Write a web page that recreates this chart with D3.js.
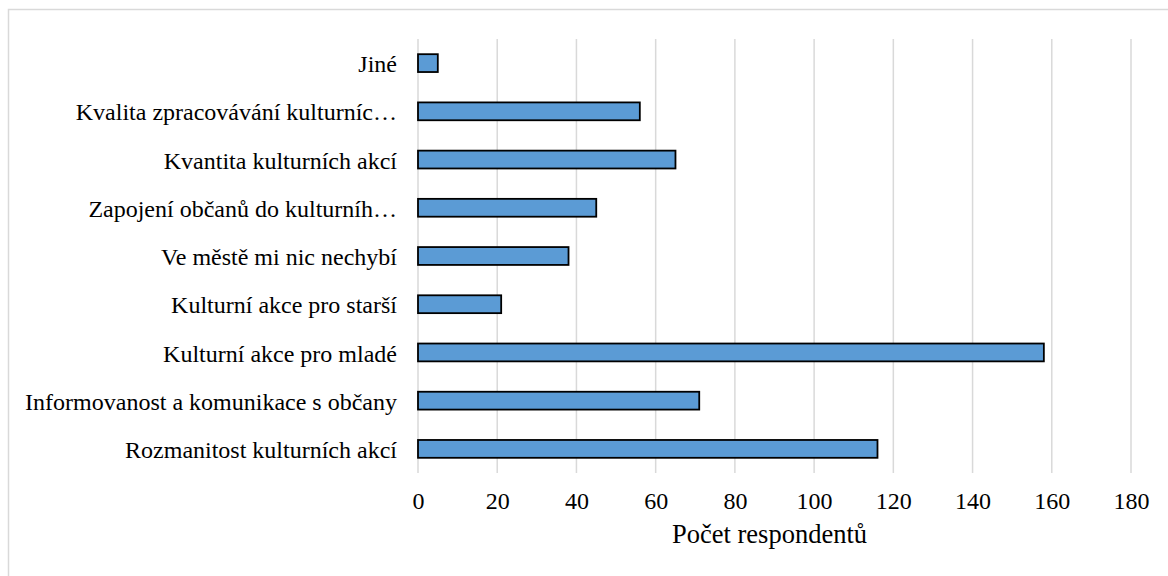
<!DOCTYPE html>
<html>
<head>
<meta charset="utf-8">
<script src="https://cdn.jsdelivr.net/npm/d3@7/dist/d3.min.js"></script>
<style>
  html, body { margin: 0; padding: 0; background: #fff; }
  svg { display: block; }
</style>
</head>
<body>
<svg id="chart" width="1168" height="576"></svg>
<script>
const categories = [
  "Jiné",
  "Kvalita zpracovávání kulturníc…",
  "Kvantita kulturních akcí",
  "Zapojení občanů do kulturníh…",
  "Ve městě mi nic nechybí",
  "Kulturní akce pro starší",
  "Kulturní akce pro mladé",
  "Informovanost a komunikace s občany",
  "Rozmanitost kulturních akcí"
];
const values = [5, 56, 65, 45, 38, 21, 158, 71, 116];
const xTicks = [0, 20, 40, 60, 80, 100, 120, 140, 160, 180];
const xTitle = "Počet respondentů";

const FONT = '"Liberation Serif", "Times New Roman", serif';
const FS = "24px";

const svg = d3.select("#chart");
const W = 1168, H = 576;
const margin = { left: 418, right: 37, top: 39, bottom: 103 };

// outer border
svg.append("rect")
  .attr("x", 8.5).attr("y", 9.5)
  .attr("width", W + 20).attr("height", H + 20)
  .attr("fill", "#fff").attr("stroke", "#d9d9d9").attr("stroke-width", 1.5);

const x = d3.scaleLinear().domain([0, 180]).range([margin.left, W - margin.right]);
const y = d3.scaleBand().domain(categories).range([margin.top, H - margin.bottom]).paddingInner(0.63).paddingOuter(0.315);

// gridlines
svg.append("g")
  .selectAll("line")
  .data(xTicks)
  .join("line")
  .attr("x1", d => x(d)).attr("x2", d => x(d))
  .attr("y1", margin.top).attr("y2", H - margin.bottom)
  .attr("stroke", "#d9d9d9").attr("stroke-width", 1.5);

// bars
svg.append("g")
  .selectAll("rect")
  .data(categories)
  .join("rect")
  .attr("x", x(0))
  .attr("y", d => y(d))
  .attr("width", (d, i) => x(values[i]) - x(0))
  .attr("height", y.bandwidth())
  .attr("fill", "#5B9BD5")
  .attr("stroke", "#000")
  .attr("stroke-width", 1.8);

// y axis labels
const yAxis = d3.axisLeft(y).tickSize(0).tickPadding(21);
const gy = svg.append("g").attr("transform", `translate(${x(0)},0)`).call(yAxis);
gy.select(".domain").remove();
gy.attr("font-family", null).attr("font-size", null);
gy.selectAll("text")
  .style("font-family", FONT)
  .style("font-size", FS)
  .attr("dy", "0.38em")
  .attr("fill", "#000");

// x axis labels
const xAxis = d3.axisBottom(x).tickValues(xTicks).tickSize(0).tickPadding(19);
const gx = svg.append("g").attr("transform", `translate(0,${H - margin.bottom})`).call(xAxis);
gx.select(".domain").remove();
gx.attr("font-family", null).attr("font-size", null);
gx.selectAll("text")
  .style("font-family", FONT)
  .style("font-size", FS)
  .attr("fill", "#000");

// axis title
svg.append("text")
  .attr("x", (x(0) + x(180)) / 2 - 5)
  .attr("y", 543)
  .attr("text-anchor", "middle")
  .style("font-family", FONT)
  .style("font-size", "26.5px")
  .attr("fill", "#000")
  .text(xTitle);
</script>
</body>
</html>
